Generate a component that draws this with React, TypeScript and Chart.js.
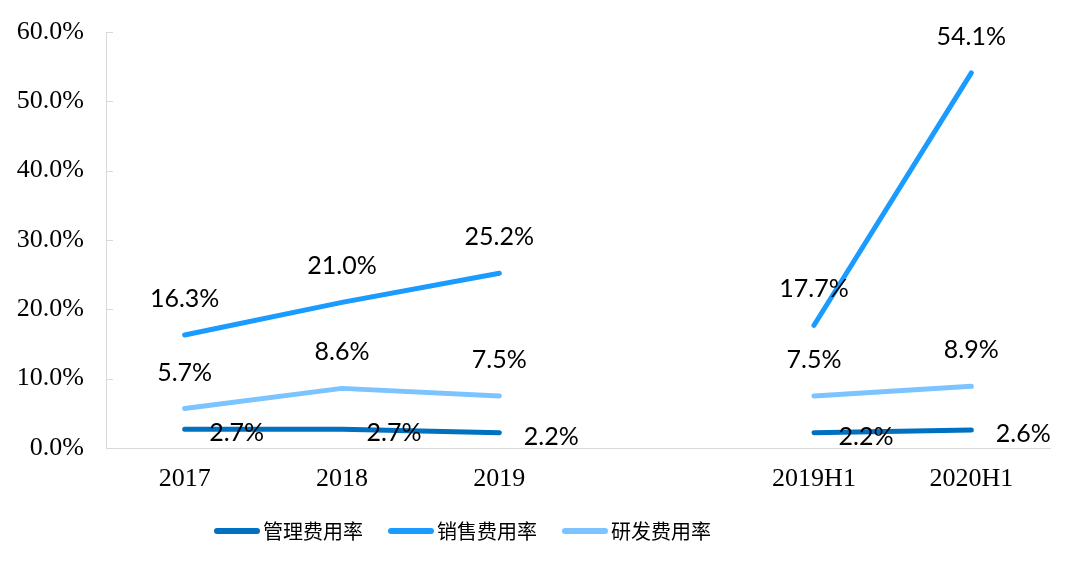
import React, { useEffect, useRef } from "react";
import { Chart, registerables } from "chart.js";

Chart.register(...registerables);

const categories = ["2017", "2018", "2019", "", "2019H1", "2020H1"];
const seriesNames = ["管理费用率", "销售费用率", "研发费用率"];
const mgmtRate = [2.7, 2.7, 2.2, null, 2.2, 2.6];
const salesRate = [16.3, 21.0, 25.2, null, 17.7, 54.1];
const rdRate = [5.7, 8.6, 7.5, null, 7.5, 8.9];
const colors = ["#0070C0", "#1A9BFF", "#7CC4FF"];

const labelOffsets = [
  { dx: 52, dy: 4 },
  { dx: 0, dy: -36 },
  { dx: 0, dy: -36 },
];

const valueLabelPlugin = {
  id: "valueLabels",
  afterDatasetsDraw(chart: any) {
    const ctx = chart.ctx;
    ctx.save();
    ctx.font = '25px Lato, "Noto Sans", sans-serif';
    ctx.fillStyle = "#000";
    ctx.textAlign = "center";
    ctx.textBaseline = "middle";
    chart.data.datasets.forEach((ds: any, i: number) => {
      const meta = chart.getDatasetMeta(i);
      meta.data.forEach((pt: any, j: number) => {
        const v = ds.data[j];
        if (v === null || v === undefined) return;
        const off = labelOffsets[i];
        ctx.fillText(v.toFixed(1) + "%", pt.x + off.dx, pt.y + off.dy);
      });
    });
    ctx.restore();
  },
  afterDraw(chart: any) {
    const ctx = chart.ctx;
    const y = chart.scales.y;
    ctx.save();
    ctx.strokeStyle = "#D9D9D9";
    ctx.lineWidth = 1;
    y.ticks.forEach((t: any) => {
      const py = Math.round(y.getPixelForValue(t.value)) + 0.5;
      ctx.beginPath();
      ctx.moveTo(y.right, py);
      ctx.lineTo(y.right + 7, py);
      ctx.stroke();
    });
    // legend
    ctx.font = '20px "Noto Sans CJK SC", sans-serif';
    ctx.textBaseline = "middle";
    ctx.textAlign = "left";
    let x = 217;
    const ly = 531;
    chart.data.datasets.forEach((ds: any) => {
      ctx.strokeStyle = ds.borderColor;
      ctx.lineWidth = 6;
      ctx.lineCap = "round";
      ctx.beginPath();
      ctx.moveTo(x, ly);
      ctx.lineTo(x + 40, ly);
      ctx.stroke();
      ctx.fillStyle = "#000";
      const tx = x + 46;
      ctx.fillText(ds.label, tx, ly);
      x = tx + ctx.measureText(ds.label).width + 28;
    });
    ctx.restore();
  },
};

export default function App() {
  const ref = useRef<HTMLCanvasElement>(null);
  useEffect(() => {
    document.body.style.margin = "0";
    const mk = (label: string, data: any[], color: string) => ({
      label,
      data,
      borderColor: color,
      backgroundColor: color,
      borderWidth: 5,
      borderCapStyle: "round",
      borderJoinStyle: "round",
      pointRadius: 0,
      pointHoverRadius: 0,
      spanGaps: false,
      tension: 0,
    });
    const chart = new Chart(ref.current!, {
      type: "line",
      data: {
        labels: categories,
        datasets: [
          mk(seriesNames[0], mgmtRate, colors[0]),
          mk(seriesNames[1], salesRate, colors[1]),
          mk(seriesNames[2], rdRate, colors[2]),
        ],
      },
      options: {
        animation: false,
        responsive: false,
        layout: { padding: { left: 0, right: 30, top: 32, bottom: 54 } },
        plugins: {
          tooltip: { enabled: false },
          legend: { display: false },
        },
        scales: {
          x: {
            offset: true,
            grid: { display: false, drawTicks: false, offset: true },
            border: { display: true, color: "#D9D9D9", width: 1 },
            ticks: {
              color: "#000",
              padding: 16,
              font: { family: '"Liberation Serif", "Times New Roman", serif', size: 26 },
              maxRotation: 0,
              autoSkip: false,
            },
            afterFit: (s: any) => {
              s.height = 62;
              s.paddingLeft = 0;
              s.paddingRight = 0;
            },
          },
          y: {
            min: 0,
            max: 60,
            grid: { display: false, drawTicks: false },
            border: { display: true, color: "#D9D9D9", width: 1 },
            ticks: {
              stepSize: 10,
              color: "#000",
              padding: 22,
              font: { family: '"Liberation Serif", "Times New Roman", serif', size: 26 },
              callback: (v: any) => Number(v).toFixed(1) + "%",
            },
            afterFit: (s: any) => {
              s.width = 106;
              s.paddingTop = 0;
              s.paddingBottom = 0;
            },
          },
        },
      } as any,
      plugins: [valueLabelPlugin],
    });
    return () => chart.destroy();
  }, []);
  return (
    <div style={{ position: "absolute", left: 0, top: 0, width: 1080, height: 564, background: "#fff" }}>
      <canvas ref={ref} width={1080} height={564} style={{ width: 1080, height: 564 }} />
    </div>
  );
}
